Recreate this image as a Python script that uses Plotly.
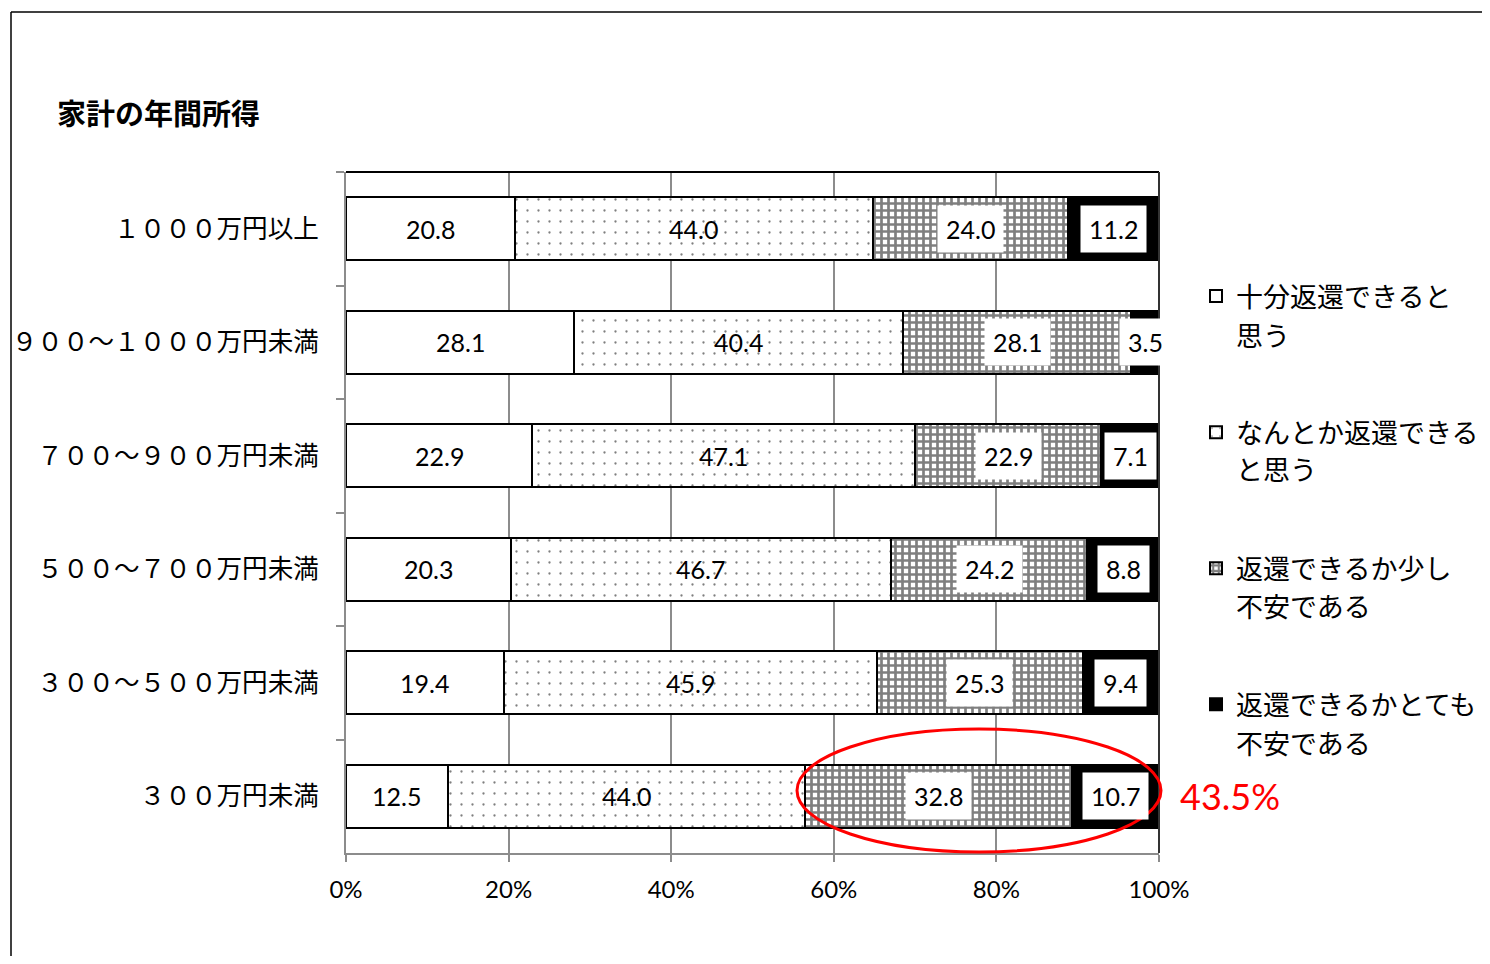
import plotly.graph_objects as go

categories = ["１０００万円以上", "９００～１０００万円未満", "７００～９００万円未満",
              "５００～７００万円未満", "３００～５００万円未満", "３００万円未満"]
series_names = ["十分返還できると\n思う", "なんとか返還できる\nと思う",
                "返還できるか少し\n不安である", "返還できるかとても\n不安である"]
s1 = [20.8, 28.1, 22.9, 20.3, 19.4, 12.5]
s2 = [44.0, 40.4, 47.1, 46.7, 45.9, 44.0]
s3 = [24.0, 28.1, 22.9, 24.2, 25.3, 32.8]
s4 = [11.2, 3.5, 7.1, 8.8, 9.4, 10.7]
x_ticks = [0, 20, 40, 60, 80, 100]
x_tick_labels = ["0%", "20%", "40%", "60%", "80%", "100%"]
title_text = "家計の年間所得"
highlight_text = "43.5%"

JP = "Noto Sans CJK JP"
NUM = "Lato"

# page body has an 8px margin: the figure is drawn 8px in and kept inside the window
OFF = 8
W, H = 1490 - 2 * OFF, 964 - 2 * OFF
# plot area in reference-screen pixels
L, R, T, B = 346, 1159, 172, 853
PW, PH = R - L, B - T

def px(xp):
    return (xp - L) / PW

def py(yp):
    return (B - yp) / PH

series = [s1, s2, s3, s4]
patterns = [
    dict(shape=""),
    dict(shape=".", size=11, solidity=0.035, fgcolor="#000000", bgcolor="#ffffff", fillmode="overlay"),
    dict(shape="+", size=7, solidity=0.62, fgcolor="#000000", bgcolor="#ffffff", fillmode="overlay"),
    dict(shape=""),
]
colors = ["#ffffff", "#ffffff", "#ffffff", "#000000"]

LEG_FONT = 27
LEG_TOP_LINE = [297, 432, 568, 705]   # first-line centres (reference px)
LEG_LINE_GAP = 37
LEG_TEXT_X = 1235

fig = go.Figure()
for i, (vals, name) in enumerate(zip(series, series_names)):
    first, second = name.split("\n")
    fig.add_trace(go.Bar(
        y=categories, x=vals, name=first, orientation="h",
        legendgroup=f"g{i}",
        marker=dict(color=colors[i], line=dict(color="#000000", width=2),
                    pattern=patterns[i]),
        hoverinfo="skip",
    ))

annotations = []
for r, cat in enumerate(categories):
    start = 0.0
    for i, vals in enumerate(series):
        v = vals[r]
        boxed = i >= 2
        annotations.append(dict(
            x=start + v / 2, y=cat, xref="x", yref="y", text=f"{v:.1f}",
            showarrow=False, font=dict(family=NUM, size=25, color="#000000"),
            bgcolor="#ffffff" if boxed else None, borderpad=8 if boxed else 0,
        ))
        start += v

# second lines of the legend labels
for i, name in enumerate(series_names):
    second = name.split("\n")[1]
    annotations.append(dict(x=px(LEG_TEXT_X), y=py(LEG_TOP_LINE[i] + LEG_LINE_GAP),
                            xref="paper", yref="paper", xanchor="left", yanchor="middle",
                            showarrow=False, text=second, borderpad=0,
                            font=dict(family=JP, size=LEG_FONT, color="#000000")))

annotations.append(dict(x=px(55), y=py(112), xref="paper", yref="paper",
                        xanchor="left", yanchor="middle", showarrow=False,
                        text=f"<b>{title_text}</b>",
                        font=dict(family=JP, size=29, color="#000000")))
annotations.append(dict(x=px(1178), y=categories[-1], xref="paper", yref="y",
                        xanchor="left", yanchor="middle", showarrow=False,
                        text=highlight_text,
                        font=dict(family=NUM, size=36, color="#ff0000")))

shapes = [
    # outer frame
    dict(type="line", xref="paper", yref="paper", x0=px(11), x1=px(1500), y0=py(12), y1=py(12),
         line=dict(color="#000000", width=1.5)),
    dict(type="line", xref="paper", yref="paper", x0=px(11), x1=px(11), y0=py(12), y1=py(975),
         line=dict(color="#000000", width=1.5)),
    # plot border top/right
    dict(type="line", xref="paper", yref="paper", x0=0, x1=1, y0=1, y1=1,
         line=dict(color="#000000", width=2)),
    dict(type="line", xref="paper", yref="paper", x0=1, x1=1, y0=0, y1=1,
         line=dict(color="#333333", width=2)),
    # red ellipse
    dict(type="circle", xref="paper", yref="paper", x0=px(797), x1=px(1161),
         y0=py(852), y1=py(729), line=dict(color="#ff0000", width=3), layer="above"),
]

fig.update_layout(
    width=W, height=H,
    margin=dict(l=L - OFF, r=(W + OFF) - R, t=T - OFF, b=(H + OFF) - B, autoexpand=False),
    paper_bgcolor="#ffffff", plot_bgcolor="#ffffff",
    barmode="stack", bargap=0.445,
    showlegend=True,
    legend=dict(x=px(1196), y=py(272), xanchor="left", yanchor="top",
                font=dict(family=JP, size=LEG_FONT, color="#000000"),
                traceorder="grouped", tracegroupgap=98, valign="middle",
                bgcolor="rgba(0,0,0,0)", itemclick=False, itemdoubleclick=False),
    xaxis=dict(range=[0, 100], tickvals=x_ticks, ticktext=x_tick_labels,
               showgrid=True, gridcolor="#8c8c8c", gridwidth=2,
               showline=True, linecolor="#8c8c8c", linewidth=2,
               ticks="outside", ticklen=7, tickcolor="#8c8c8c", tickwidth=2,
               tickfont=dict(family=NUM, size=24, color="#000000"),
               ticklabelstandoff=7, zeroline=False, fixedrange=True),
    yaxis=dict(categoryorder="array", categoryarray=categories, autorange="reversed",
               showline=True, linecolor="#8c8c8c", linewidth=2,
               ticks="outside", ticklen=8, tickcolor="#8c8c8c", tickwidth=2,
               tickson="boundaries", showgrid=False,
               tickfont=dict(family=JP, size=25.6, color="#000000"),
               ticklabelstandoff=20, fixedrange=True),
    annotations=annotations,
    shapes=shapes,
    font=dict(family=JP, color="#000000"),
)

fig.write_html("out.html")
